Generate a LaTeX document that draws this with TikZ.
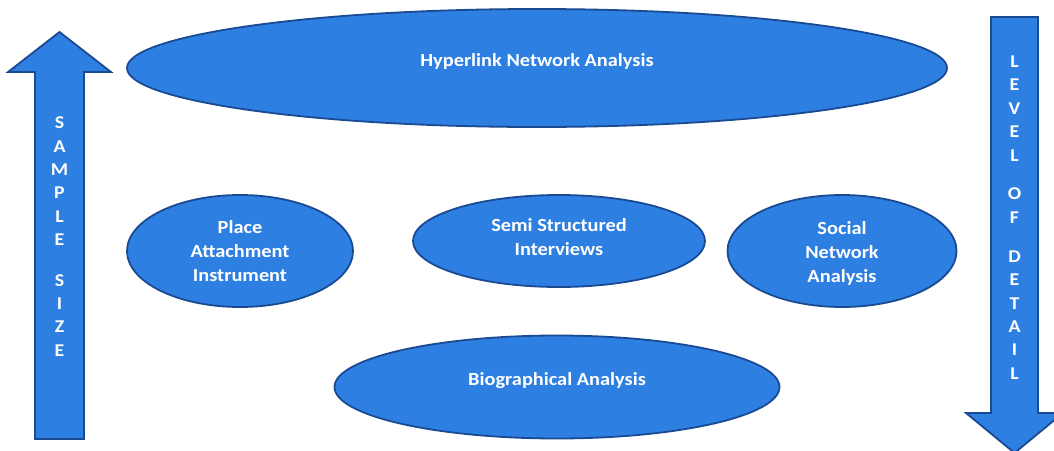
\documentclass[tikz,border=0pt]{standalone}
\usepackage{fontspec}
\setmainfont{Carlito}[FakeStretch=1.1]
\usetikzlibrary{shapes.geometric}
\definecolor{fillblue}{RGB}{46,127,226}
\definecolor{edgeblue}{RGB}{26,74,146}
\tikzset{
  blob/.style={ellipse, draw=edgeblue, fill=fillblue, line width=1.8pt, inner sep=0pt},
  lbl/.style={text=white, font=\bfseries\fontsize{18.5}{24}\selectfont, align=center, inner sep=0pt},
  bigarrow/.style={draw=edgeblue, fill=fillblue, line width=1.8pt, line join=miter},
  letters/.style={text=white, font=\bfseries\fontsize{18}{23.4}\selectfont, align=center, inner sep=0pt}
}
\begin{document}
\begin{tikzpicture}[x=1pt, y=-1pt]
\clip (0,0) rectangle (1054,450);

% vertical arrows
\draw[bigarrow] (35,439) -- (35,72) -- (8,72) -- (59.5,32) -- (111,72)
  -- (84,72) -- (84,439) -- cycle;
\node[letters] (sample) at (59.5,236.5) {S\\A\\M\\P\\L\\E\\[17pt]S\\I\\Z\\E};

\draw[bigarrow] (991,17) -- (1038,17) -- (1038,413) -- (1063,413)
  -- (1014.5,453) -- (966,413) -- (991,413) -- cycle;
\node[letters] (detail) at (1014.5,217.5) {L\\E\\V\\E\\L\\[15.5pt]O\\F\\[15.5pt]D\\E\\T\\A\\I\\L};

% methods
\node[blob, minimum width=820pt, minimum height=118pt] (hna) at (537,68) {};
\node[lbl] at ([yshift=6.5pt]hna.center) {Hyperlink Network Analysis};

\node[blob, minimum width=226pt, minimum height=112pt] (pai) at (240,251) {};
\node[lbl] at ([yshift=-0.5pt]pai.center) {Place\\Attachment\\Instrument};

\node[blob, minimum width=292pt, minimum height=92pt] (ssi) at (559,241) {};
\node[lbl] at ([yshift=3.5pt]ssi.center) {Semi Structured\\Interviews};

\node[blob, minimum width=229pt, minimum height=112pt] (sna) at (842,251) {};
\node[lbl] at ([yshift=-2pt]sna.center) {Social\\Network\\Analysis};

\node[blob, minimum width=445pt, minimum height=103pt] (bio) at (557,387) {};
\node[lbl] at ([yshift=6.5pt]bio.center) {Biographical Analysis};
\end{tikzpicture}
\end{document}
